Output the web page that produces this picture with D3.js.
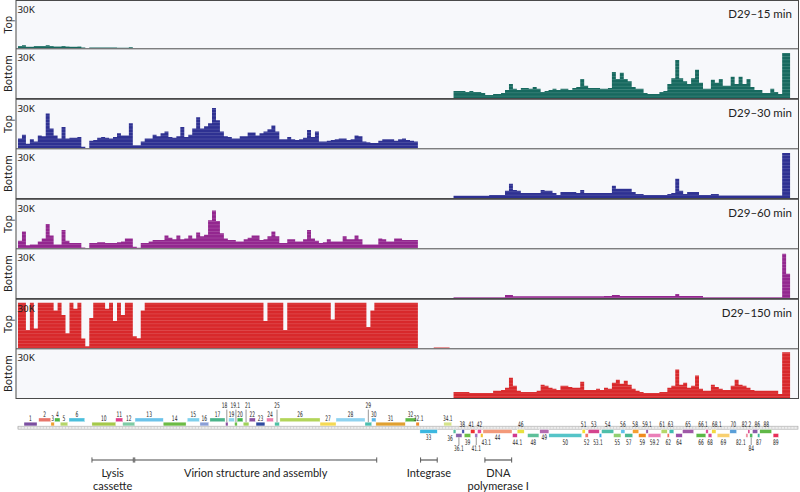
<!DOCTYPE html>
<html><head><meta charset="utf-8">
<script src="https://cdn.jsdelivr.net/npm/d3@7"></script>
<style>
body{margin:0;background:#fff;}
svg{display:block;}
</style></head><body>
<svg id="chart" width="800" height="492"></svg>
<script>
// ---------------- DATA ----------------
const genomeKb = 49.25;          // genome length shown (kb)
const binKb = 0.25;              // coverage bin size (kb)
const topStartBin = 0;           // first bin of top-strand arrays
const bottomStartBin = 110;      // first bin of bottom-strand arrays
const yMaxK = 30;                // axis max (thousands of reads)
const timepoints = ["D29–15 min", "D29–30 min", "D29–60 min", "D29–150 min"];
const strands = ["Top", "Bottom"];
const trackColors = ["#17695f", "#2e3192", "#93278f", "#d8282b"];

// coverage, thousands of reads per bin
const top15 = [1.5,2,1,1,1.5,1.5,1.5,2,1.5,1.2,1.2,1.5,1.2,1,1,1.2,0.5,0,0.6,0.6,0.6,0.6,0.6,0.6,0.6,0.3,0.3,0.3,0.7];
const bot15 = [4.6,4.6,4.6,4,4.6,4,4,3.3,2,2,
  2.6,2.6,3.3,5.3,9.2,6,5.3,6.6,6.6,6,
  7.3,6,4,4.6,5.3,6,5.3,6,6,5.3,
  6.6,7.3,12.5,8,6.6,6.6,6.6,6,6,6.6,
  17,12.5,16.5,12.5,11,7.3,6,6,3.3,2.6,
  2.6,2.6,4,4.6,9.2,13,25,13,11,9.2,
  13,18.5,10,6,6,12,10,12.5,8,8,
  14,9.2,14,9.2,12.5,7.3,5.3,5.3,3.3,3.3,
  6,4,2.6,29.5,29.5];
const top30 = [6.5,9,3,6,4.5,8.5,8,23,13,8.5,
  6.5,14,6.5,7,7,7.5,1,0,5,5.5,
  7,7.5,7,6.5,7.5,10,8.5,8.5,16.5,2,
  2,4.5,6.5,6.5,9,8,10,11,7.5,7,
  8,14,7.5,9,13,20.5,13,14.5,16.5,26.5,
  18.5,11,8,7.5,6.5,6.5,8,8,10.5,10.5,
  8.5,10,11,12.5,15,11,6,6,7.5,6,
  5.5,6,7,12,7.5,11,4.5,4.5,5,5.5,
  6,6.5,6.5,5.5,6,8.5,8,4.5,4,3.5,
  3.5,5,6,6,6,5,6,6.5,5.5,5,4.5];
const bot30 = [1.5,1.5,1.5,1.5,1.5,1.5,1.5,1.5,1.5,2,
  2,2,2,4.7,9.3,5.3,4.7,3.3,3.3,3.3,
  3.3,3.3,5.3,4.7,4.7,3.3,2,4,4,4,
  4,3.3,5.3,3.3,3.3,3.3,3.3,3.3,3.3,3.3,
  8,6,6,6,6,4,2.7,2.7,2,2,
  2,2,2,2,2.7,3.3,12.7,4.7,2.7,4,
  4,4,2,2,2,2.7,2.7,1.7,1.7,1.7,
  1.7,1.7,1.7,1.7,1.7,1.7,1.7,1.7,1.7,1.7,
  1.7,1.7,1.7,29.5,29.5];
const top60 = [5,11,2,2.5,2.5,4.5,6.5,16,8.5,2.5,
  2.5,12,5,3.5,3.5,3.5,0.5,0,3.5,3.5,
  4,4,3.5,3.5,3.5,4,4.5,6.5,6.5,1,
  0.3,3.5,3.5,4.5,5.5,5.5,5.5,8.5,7,6,
  8.5,6,6.5,8.5,6.5,10.5,8,9,18.5,25,
  18,10,6.5,5.5,5.5,4.5,4.5,6,7,8.5,
  8.5,5.5,6,8,11,8,3.5,3.5,6,6,
  4.5,4.5,6,12,6.5,5,3.5,4,6,4.5,
  4.5,4.5,8,6,6,8.5,6,2.5,2.5,2.5,
  2.5,6.5,6,4.5,4.5,6.5,6.5,5.5,5.5,5.5,5.5];
const bot60 = [0.5,0.5,0.5,0.5,0.5,0.5,0.5,0.5,0.5,0.5,
  0.5,0.5,0.5,2,2,1.2,1.2,1.2,1.2,1.2,
  1.2,1.2,1.2,1.2,1.2,1.2,1.2,1.2,1.2,1.2,
  1.2,1.2,1.2,1.2,1.2,1.2,1.2,1.2,1.3,1.3,
  2,2,1.3,1.3,1.3,1.3,1.3,1.3,1.3,1.3,
  1.3,1.3,1.3,1.3,1.3,1.3,2.7,1.3,1.3,1.3,
  1.3,1.3,1.3,0.5,0.5,0.5,0.5,0.5,0.5,0.5,
  0.5,0.5,0.5,0.5,0.5,0.5,0.5,0.5,0.5,0.5,
  0.5,0.5,0.5,29,16];
const top150 = [45,45,12,45,13,45,45,45,45,25,
  45,22,10,45,26,45,6.5,1.3,20,45,
  45,45,26,30,18,45,22,45,45,8,
  6.7,25,45,30,45,45,35,45,45,45,
  45,45,45,45,45,45,45,45,45,45,
  45,45,45,36,45,45,45,45,45,45,
  45,45,18,45,45,45,45,12,45,45,
  45,30,45,45,45,45,30,45,45,19,
  45,45,45,45,30,45,45,45,14,25,
  45,45,30,45,45,45,45,45,45,45,45,
  0,0,0,0,0.6,0.6,0.6,0.6];
const bot150 = [4,4,4,4,3.3,3.3,3.3,3.3,3.3,3.3,
  4.7,4.7,5.3,6.7,13.3,8,4.7,4,4,4,
  4,4.7,8.7,8,6.7,6,5.3,8,8,7.3,
  6.7,6.7,10.7,5.3,5.3,5.3,6,5.3,6.7,6,
  10,12,9.3,11.3,8.7,6,4.7,4,3.3,3.3,
  3.3,3.3,4,4,6.7,8,18.7,8.7,10,6.7,
  8,14.7,6,4.7,4.7,8.7,7.3,6,5.3,5.3,
  8,12,8.7,8,6.7,5.3,4.7,4.7,4.7,4.7,
  4.7,4.7,2.7,31,31];

const topTracks = [top15, top30, top60, top150];
const bottomTracks = [bot15, bot30, bot60, bot150];

// genes: name, start kb, end kb, row (A/B above, C/D below), colour, label mode, label nudge (px)
const genes = [
 ["1",0.38,1.20,"B","#7b4fa0","u"],["2",1.31,2.06,"A","#e8756a","u"],
 ["3",2.08,2.29,"B","#f0a030","u"],["4",2.32,2.65,"A","#4db848","u"],
 ["5",2.67,3.14,"B","#b5d56a","u"],["6",3.22,4.21,"A","#4bbfdc","u"],
 ["10",4.67,6.17,"B","#a5c94a","u"],["11",6.17,6.61,"A","#e0408a","u"],
 ["12",6.61,7.37,"B","#7ecba5","u"],["13",7.39,9.17,"A","#6cc3ea","u"],
 ["14",9.17,10.61,"B","#6cbb45","u"],["15",10.69,11.45,"A","#7fd0ec","u"],
 ["16",11.49,12.04,"B","#8b9fd6","u"],["17",12.12,13.07,"A","#4bb48a","u"],
 ["18",13.11,13.26,"B","#8a4fa0","tu",-2.2],["19",13.30,13.66,"A","#8ad4ec","u"],
 ["19.1",13.68,13.84,"B","#6cc04a","tu",-0.6],["20",13.84,14.20,"A","#3fb54a","u"],
 ["21",14.22,14.58,"B","#9fd25a","tu",1.8],["22",14.60,14.98,"A","#8a4fa0","u"],
 ["23",15.03,15.59,"B","#2f4aa0","u"],["24",15.70,16.12,"A","#ee7fae","u"],
 ["25",16.21,16.50,"B","#4fc1a5","tu"],["26",16.54,19.07,"A","#b3d55a","u"],
 ["27",19.07,20.08,"B","#f5d955","u"],["28",20.08,21.91,"A","#8fd3f0","u"],
 ["29",21.91,22.33,"B","#4cbfb0","tu"],["30",22.33,22.60,"A","#5ab6e8","u"],
 ["31",22.60,24.45,"B","#e0a030","u"],["32",24.45,25.13,"A","#5cb948","u"],
 ["32.1",25.13,25.33,"B","#f08a2a","u",1],["33",25.38,26.47,"C","#3cb8e0","d"],
 ["34.1",26.89,27.38,"B","#d5e38a","u"],["36",27.48,27.65,"C","#55c0a0","l"],
 ["36.1",27.65,28.03,"D","#8860aa","td"],["38",28.03,28.18,"C","#4758b0","u",-0.8],
 ["39",28.18,28.58,"D","#6cc04a","d"],["41",28.58,28.85,"C","#ee3030","u",-1.5],
 ["41.1",28.85,29.02,"D","#9b78c0","td"],["42",29.02,29.25,"C","#e7469a","u"],
 ["43.1",29.21,29.36,"D","#f0c030","d",4.5],["44",29.36,31.19,"C","#f39a7a","d"],
 ["44.1",31.23,31.52,"D","#d23a8c","d",2.5],["46",31.52,31.96,"C","#e8e040","u"],
 ["48",32.18,32.89,"D","#5ec09a","d"],["49",32.95,33.52,"C","#b46ab0","d"],
 ["50",33.52,35.59,"D","#55c4c8","d"],["51",35.62,35.81,"C","#f5e030","u"],
 ["52",35.81,36.00,"D","#f07868","d"],["53",36.00,36.70,"C","#d4448e","u"],
 ["53.1",36.70,36.85,"D","#3fa9e0","d",-2.5],["54",36.85,37.61,"C","#4fbfaa","u"],
 ["55",37.61,38.07,"D","#90cf70","d"],["56",38.07,38.32,"C","#5fc1ea","u"],
 ["57",38.32,38.81,"D","#4cb890","d"],["58",38.81,39.19,"C","#f5a030","u",-0.5],
 ["59",39.19,39.65,"D","#f08c20","d"],["59.1",39.65,39.79,"C","#9a5fae","u"],
 ["59.2",39.79,40.59,"D","#ea7fb8","d"],["61",40.61,40.99,"C","#b5d86a","u",-2],
 ["62",40.99,41.12,"D","#f07060","d"],["63",41.12,41.41,"C","#40bcb0","u",-1],
 ["64",41.54,41.94,"D","#9a50a8","d"],["65",41.96,42.66,"C","#a05aa8","u"],
 ["66",42.82,43.43,"D","#5cb848","d"],["66.1",43.43,43.58,"C","#e2509c","u",-4],
 ["68",43.58,43.81,"D","#d04898","d"],["68.1",43.81,44.07,"C","#f5d840","u",3],
 ["69",44.15,44.93,"D","#f8d070","d"],["70",44.95,45.37,"C","#5a9fd8","u"],
 ["82.1",45.96,46.09,"D","#ee8fa0","d",-6],["82.2",46.09,46.21,"C","#d8408a","u",-2.4],
 ["84",46.21,46.38,"D","#50b860","td"],["86",46.38,46.70,"C","#8a5aa8","u",2.2],
 ["87",46.70,46.84,"D","#40b8a0","d"],["88",46.84,47.58,"C","#60b848","u",0.5],
 ["89",47.68,48.02,"D","#e8305a","d"]
];

const regionNames = [["Lysis","cassette"], ["Virion structure and assembly"], ["Integrase"], ["DNA","polymerase I"]];
const regionStart = [4.67, 7.37, 25.42, 29.48];
const regionEnd   = [7.28, 22.65, 26.47, 31.17];

// ---------------- DRAW ----------------
const svg = d3.select("#chart");
const W = 800, H = 492;
svg.append("rect").attr("width",W).attr("height",H).attr("fill","#fff");
const x = d3.scaleLinear().domain([0, genomeKb]).range([18, 798]);
const plotL = 16, plotR = 798.5;
const defs = svg.append("defs");

trackColors.forEach((c,i)=>{
  const p = defs.append("pattern").attr("id","pat"+i)
    .attr("patternUnits","userSpaceOnUse").attr("width",10).attr("height",3.3);
  p.append("rect").attr("width",10).attr("height",3.3).attr("fill",c);
  p.append("rect").attr("width",10).attr("height",0.8).attr("fill","#fff").attr("opacity",0.16);
});

function groupTop(g){ return g===0 ? 0.5 : 100*g - 0.7; }
function groupMid(g){ return 100*g + 48.8; }
function groupBot(g){ return 100*g + 98.5; }

for (let g=0; g<4; g++){
  const gt = groupTop(g), gm = groupMid(g), gb = groupBot(g);
  const panels = [[gt, gm, topTracks[g], topStartBin], [gm, gb, bottomTracks[g], bottomStartBin]];
  panels.forEach((pn, pi)=>{
    const [t, b, vals, start] = pn;
    const cid = "clip"+g+"_"+pi;
    defs.append("clipPath").attr("id",cid).append("rect")
      .attr("x",plotL).attr("y",t).attr("width",plotR-plotL).attr("height",b-t);
    svg.append("rect").attr("x",plotL).attr("y",t).attr("width",plotR-plotL).attr("height",b-t)
      .attr("fill","#f7f8fb");
    const y = d3.scaleLinear().domain([0,yMaxK]).range([b-0.5, t+3.5]).clamp(true);
    const pts = vals.map((v,i)=>({kb:(start+i)*binKb, v}));
    pts.push({kb:(start+vals.length)*binKb, v:vals[vals.length-1]});
    const area = d3.area().curve(d3.curveStepAfter)
      .x(d=>x(d.kb)).y0(y(0)).y1(d=>y(d.v));
    svg.append("path").datum(pts).attr("d",area)
      .attr("fill","url(#pat"+g+")").attr("clip-path","url(#"+cid+")");
    svg.append("text").attr("x",17.5).attr("y",t+12.6)
      .attr("font-family","'Noto Sans', sans-serif").attr("font-size",9.8).attr("fill","#222")
      .text(yMaxK+"K");
    svg.append("text")
      .attr("transform",`translate(11.5,${(t+b)/2}) rotate(-90)`)
      .attr("text-anchor","middle")
      .attr("font-family","'Noto Sans', sans-serif").attr("font-size",10.5).attr("fill","#222")
      .text(strands[pi]);
  });
  svg.append("rect").attr("x",plotL).attr("y",gt).attr("width",plotR-plotL).attr("height",gb-gt)
    .attr("fill","none").attr("stroke","#4a4a4a").attr("stroke-width",1);
  svg.append("line").attr("x1",plotL).attr("x2",plotR).attr("y1",gm).attr("y2",gm)
    .attr("stroke","#4a4a4a").attr("stroke-width",1);
  svg.append("text").attr("x",792).attr("y",gt+17.5).attr("text-anchor","end")
    .attr("font-family","Lato, sans-serif").attr("font-size",11.5).attr("fill","#222")
    .text(timepoints[g]);
}

// ---------- genome map ----------
const rowY = {A:418, B:422.2, C:429.6, D:433.6};
const boxH = 3.7;
const rulerY = 426.2, rulerH = 3;
const map = svg.append("g");
map.append("rect").attr("x",18).attr("y",rulerY).attr("width",780).attr("height",rulerH)
  .attr("fill","#eeeeee").attr("stroke","#a8a8a8").attr("stroke-width",0.6);
map.selectAll("line.tick").data(d3.range(0, genomeKb, 0.2)).enter().append("line")
  .attr("x1",d=>x(d)).attr("x2",d=>x(d)).attr("y1",rulerY+0.4).attr("y2",rulerY+rulerH-0.4)
  .attr("stroke","#bdbdbd").attr("stroke-width",0.5);

const gFont = "'Liberation Sans Narrow','DejaVu Sans Condensed','Arial Narrow',sans-serif";
// condensed label width: digits ~2.8px, dot ~1.2px
const labelWidth = s => s.split("").reduce((w,ch)=>w + (ch==="." ? 1.2 : 2.8), 0);
genes.forEach(([name,s,e,row,col,mode,nudge])=>{
  const x0 = x(s), x1 = x(e), cx = (x0+x1)/2, yy = rowY[row];
  map.append("rect").attr("x",x0).attr("y",yy).attr("width",Math.max(1.5,x1-x0)).attr("height",boxH)
    .attr("fill",col).attr("stroke","#ffffff").attr("stroke-width",0.3);
  let ly, anchor = "middle", lx = cx + (nudge||0);
  if (mode==="u") ly = row==="A" ? 416.6 : (row==="B" ? 420.8 : 427.4);
  else if (mode==="d") ly = row==="C" ? 440.3 : 444.6;
  else if (mode==="l") { ly = 440.5; anchor = "end"; lx = x0 - 0.3; }
  else if (mode==="tu") {
    ly = 408.4;
    map.append("line").attr("x1",cx).attr("x2",cx).attr("y1",409.6).attr("y2",yy)
      .attr("stroke","#8a8a8a").attr("stroke-width",0.9);
  } else if (mode==="td") {
    ly = 451.2;
    map.append("line").attr("x1",cx).attr("x2",cx).attr("y1",yy+boxH).attr("y2",445)
      .attr("stroke","#8a8a8a").attr("stroke-width",0.9);
  }
  map.append("text").attr("x",lx).attr("y",ly).attr("text-anchor",anchor)
    .attr("font-family",gFont).attr("font-size",7.6).attr("fill","#222")
    .attr("textLength",labelWidth(name)).attr("lengthAdjust","spacingAndGlyphs")
    .text(name);
});

// ---------- region annotations ----------
regionNames.forEach((nm,i)=>{
  const a = x(regionStart[i]), b = x(regionEnd[i]), yl = 460;
  map.append("line").attr("x1",a).attr("x2",b).attr("y1",yl).attr("y2",yl)
    .attr("stroke","#4a4a4a").attr("stroke-width",1.1);
  [a,b].forEach(xx=>map.append("line").attr("x1",xx).attr("x2",xx).attr("y1",yl-2.6).attr("y2",yl+2.6)
    .attr("stroke","#4a4a4a").attr("stroke-width",0.9));
  nm.forEach((t,j)=>{
    map.append("text").attr("x",(a+b)/2).attr("y",476.5 + j*13).attr("text-anchor","middle")
      .attr("font-family","Lato, sans-serif").attr("font-size",11).attr("fill","#222").text(t);
  });
});
</script>
</body></html>
